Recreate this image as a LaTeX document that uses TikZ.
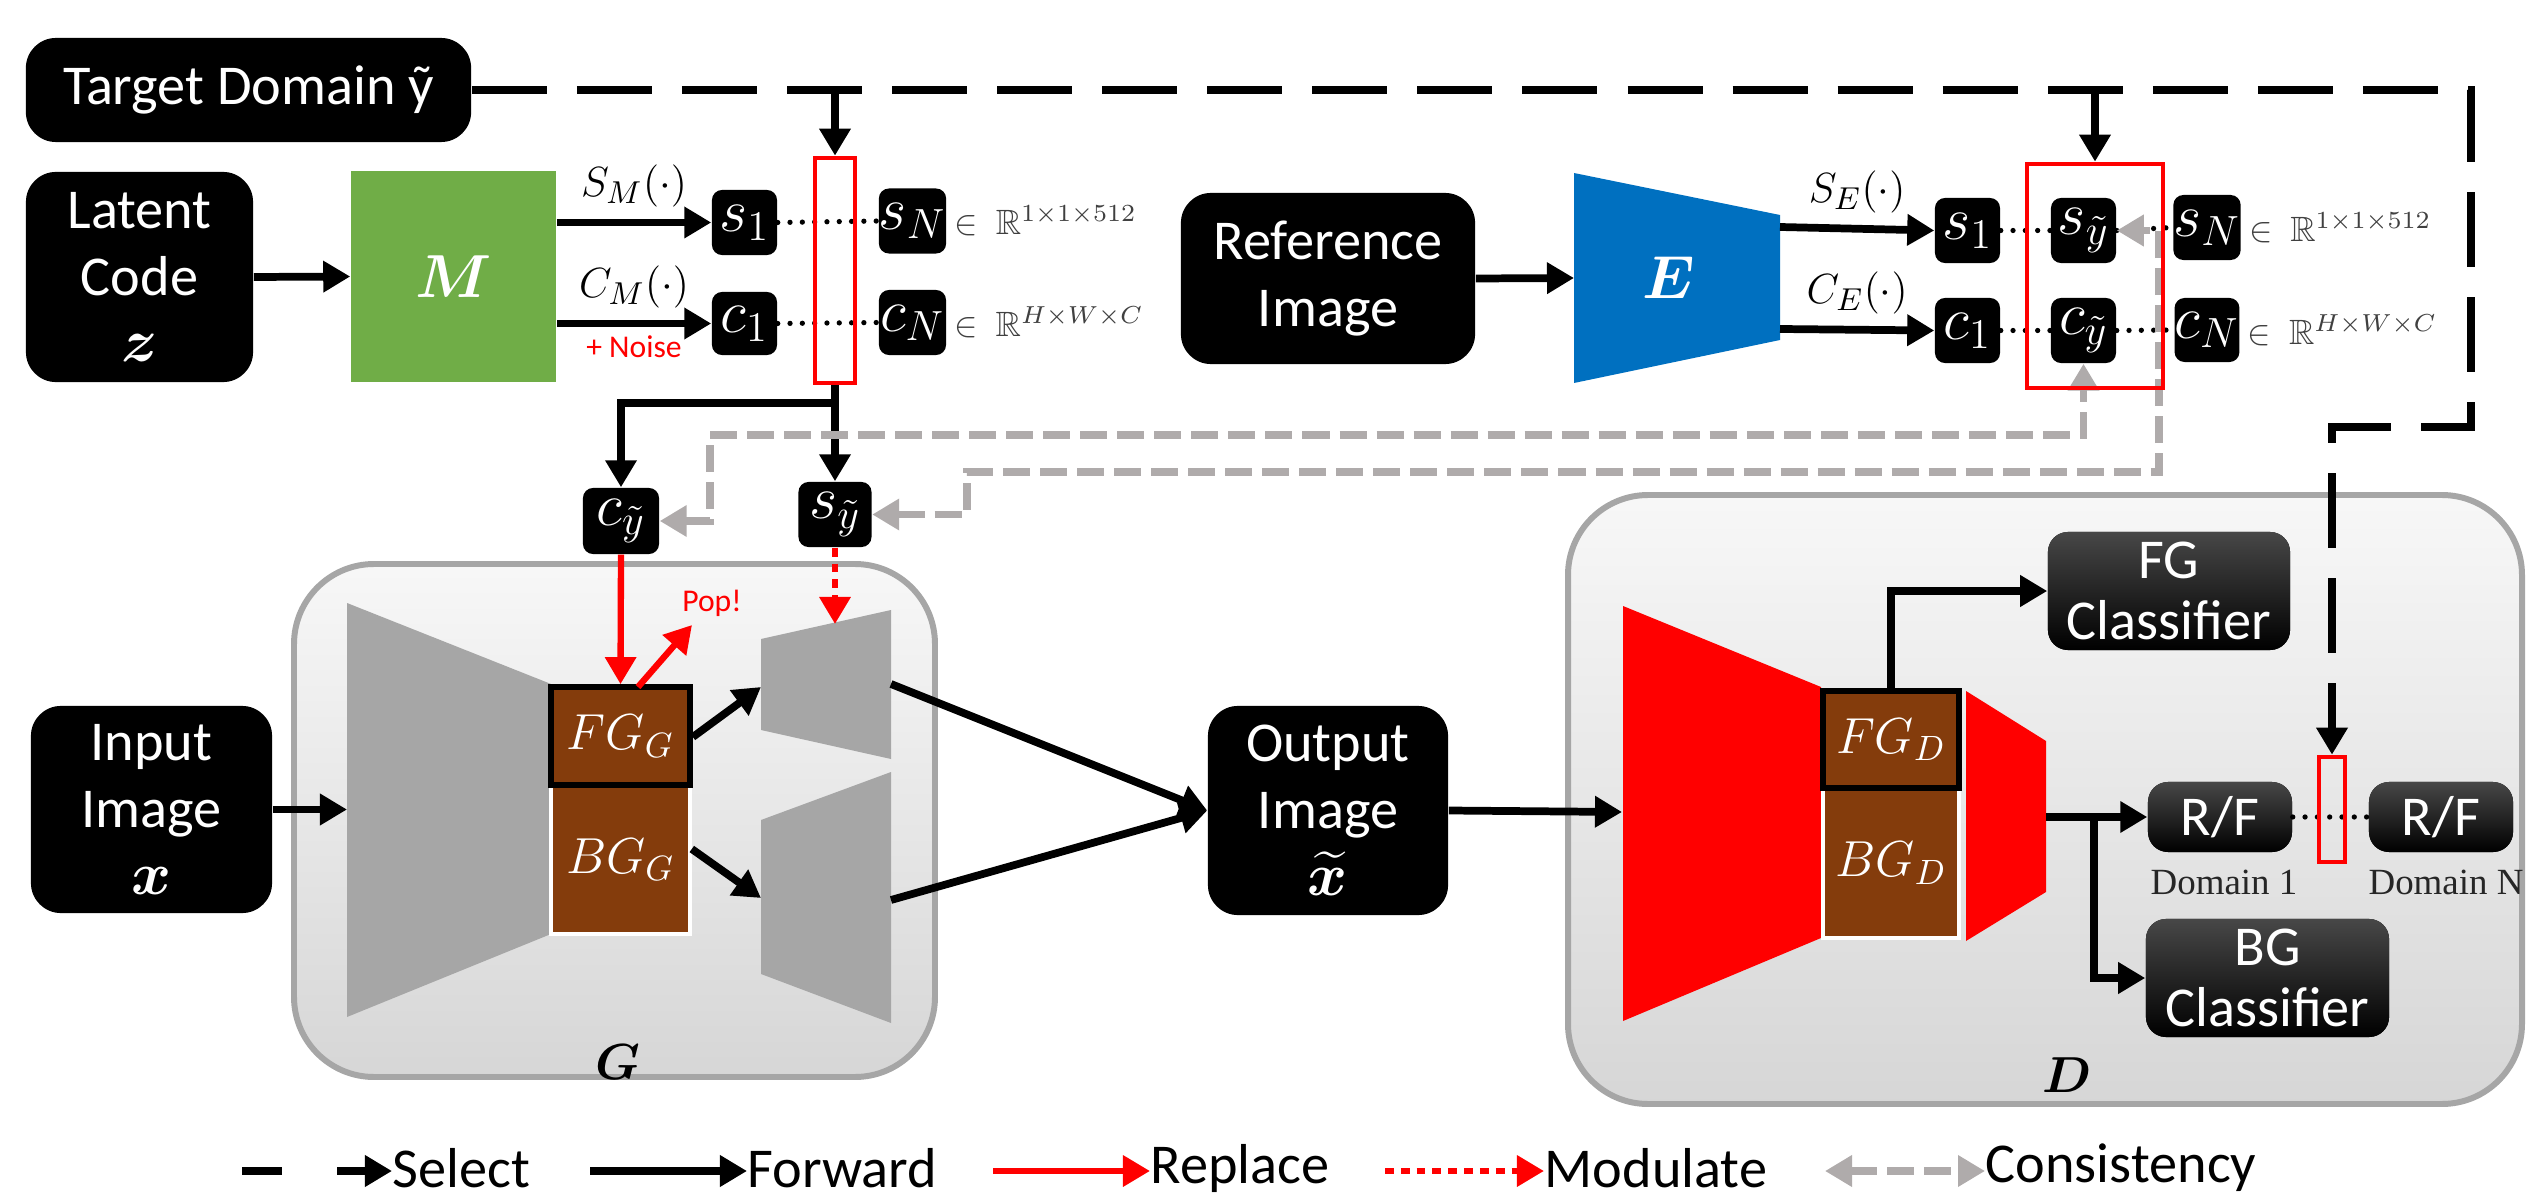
\documentclass[tikz,border=0pt]{standalone}
\usepackage{amsmath}
\usepackage{amssymb}
\usepackage{bm}
\usepackage{fontspec}
\setmainfont{Carlito}
\newfontfamily\domfont{Liberation Serif}
\usepackage{tikz}
\usetikzlibrary{positioning,calc,arrows.meta}
\definecolor{mgreen}{HTML}{70AD47}
\definecolor{eblue}{HTML}{0070C0}
\definecolor{featbrown}{HTML}{843C0C}
\definecolor{netgray}{HTML}{A6A6A6}
\definecolor{consgray}{HTML}{AFABAB}
\newcommand{\boxfont}{\fontsize{16}{19}\selectfont}
\newcommand{\cellfont}{\fontsize{17}{20}\selectfont}
\newcommand{\featfont}{\fontsize{14.5}{17}\selectfont}
\newcommand{\smallred}{\fontsize{9}{11}\selectfont}
\newcommand{\maplbl}{\fontsize{13}{15}\selectfont}
\tikzstyle{blk} = [fill=black, text=white, rounded corners=0.3cm, align=center, inner sep=0pt, font=\boxfont]
\tikzstyle{clf} = [blk, top color=black!72, bottom color=black, rounded corners=0.2cm, font=\fontsize{16}{17.5}\selectfont]
\tikzstyle{cell} = [fill=black, text=white, rounded corners=0.1cm, inner sep=0pt, font=\cellfont]
\tikzstyle{feat} = [fill=featbrown, text=white, inner sep=0pt, font=\featfont]
\tikzstyle{selbox} = [draw=red, line width=1.3pt, inner sep=0pt]
\tikzstyle{container} = [rounded corners=0.8cm, draw=netgray, line width=1.7pt, top color=black!3, bottom color=black!16]
\tikzstyle{fwd} = [-{Triangle[length=0.27cm,width=0.3cm]}, line width=2.2pt]
\tikzstyle{pick} = [fwd, dash pattern=on 0.75cm off 0.3cm]
\tikzstyle{rep} = [fwd, red, line width=1.8pt]
\tikzstyle{modu} = [fwd, red, line width=1.8pt, dash pattern=on 2.5pt off 2pt]
\tikzstyle{cons} = [{Triangle[length=0.27cm,width=0.3cm]}-{Triangle[length=0.27cm,width=0.3cm]}, consgray, line width=2.2pt, dash pattern=on 0.27cm off 0.1cm]
\tikzstyle{dotline} = [line width=1.5pt, line cap=round, dash pattern=on 0pt off 3.5pt]
\tikzstyle{dim} = [anchor=west, inner sep=2pt, text=black!75, font=\fontsize{10}{12}\selectfont]
\tikzstyle{legend} = [anchor=west, inner sep=0pt, font=\fontsize{16}{19}\selectfont]

\begin{document}
\begin{tikzpicture}[x=0.01cm, y=-0.01cm]
	\useasboundingbox (0,0) rectangle (2529,1197);
	%
	\draw [container] (294,564) rectangle (935,1077);
	\draw [container] (1568,495) rectangle (2522,1104);
	%
	\node (tgt) [blk, minimum width=4.45cm, minimum height=1.04cm] at (248.5,90) {Target Domain ỹ};
	\node (lat) [blk, minimum width=2.27cm, minimum height=2.1cm] at (139.5,277) {Latent\\Code\\$\bm{z}$};
	\node (M) [fill=mgreen, text=white, minimum width=2.05cm, minimum height=2.11cm, font=\fontsize{16}{19}\selectfont] at (453.5,276.5) {$\bm{M}$};
	%
	\node (s1) [cell, minimum width=0.65cm, minimum height=0.65cm] at (744.5,222.5) {$s_1$};
	\node (sN) [cell, minimum width=0.67cm, minimum height=0.65cm] at (912.5,221) {$s_N$};
	\node (c1) [cell, minimum width=0.65cm, minimum height=0.63cm] at (744.5,323.5) {$c_1$};
	\node (cN) [cell, minimum width=0.67cm, minimum height=0.65cm] at (912.5,322.5) {$c_N$};
	\node (dimS) [dim] at (sN.east) {$\in\ \mathbb{R}^{1\times1\times512}$};
	\node (dimC) [dim] at (cN.east) {$\in\ \mathbb{R}^{H\times W\times C}$};
	\draw [dotline] (s1.east) -- (sN.west);
	\draw [dotline] (c1.east) -- (cN.west);
	\node (selM) [selbox, minimum width=0.4cm, minimum height=2.25cm] at (835,270.5) {};
	%
	\draw [fwd] (lat.east) -- (M.west);
	\draw [fwd] (M.east |- s1.west) -- node[above, font=\maplbl] {$S_M(\cdot)$} (s1.west);
	\draw [fwd] (M.east |- c1.west) -- node[above, font=\maplbl] {$C_M(\cdot)$} node[below, red, font=\smallred, yshift=1pt] {+ Noise} (c1.west);
	%
	\node (ref) [blk, minimum width=2.94cm, minimum height=1.71cm] at (1328,278.5) {Reference\\Image};
	\fill [eblue] (1574,173) -- (1780,215) -- (1780,340) -- (1574,383) -- cycle;
	\node (E) [text=white, font=\fontsize{16}{19}\selectfont] at (1669,278) {$\bm{E}$};
	\coordinate (Ein) at (1574,278);
	\coordinate (Es) at (1780,227);
	\coordinate (Ec) at (1780,329);
	%
	\node (es1) [cell, minimum width=0.65cm, minimum height=0.65cm] at (1967.5,230.5) {$s_1$};
	\node (esy) [cell, minimum width=0.65cm, minimum height=0.65cm] at (2083.5,230.5) {$s_{\tilde{y}}$};
	\node (esN) [cell, minimum width=0.64cm, minimum height=0.65cm] at (2207,227.5) {$s_N$};
	\node (ec1) [cell, minimum width=0.65cm, minimum height=0.65cm] at (1967.5,330.5) {$c_1$};
	\node (ecy) [cell, minimum width=0.65cm, minimum height=0.65cm] at (2083.5,330.5) {$c_{\tilde{y}}$};
	\node (ecN) [cell, minimum width=0.64cm, minimum height=0.64cm] at (2207,330) {$c_N$};
	\node (edimS) [dim] at (esN.east) {$\in\ \mathbb{R}^{1\times1\times512}$};
	\node (edimC) [dim] at (ecN.east) {$\in\ \mathbb{R}^{H\times W\times C}$};
	\draw [dotline] (es1.east) -- (esy.west);
	\draw [dotline] (esy.east) -- (esN.west);
	\draw [dotline] (ec1.east) -- (ecy.west);
	\draw [dotline] (ecy.east) -- (ecN.west);
	%
	\draw [fwd] (ref.east) -- (Ein);
	\draw [fwd] (Es) -- node[above, font=\maplbl] {$S_E(\cdot)$} (es1.west);
	\draw [fwd] (Ec) -- node[above, font=\maplbl] {$C_E(\cdot)$} (ec1.west);
	%
	\node (cyG) [cell, minimum width=0.76cm, minimum height=0.66cm] at (621,521) {$c_{\tilde{y}}$};
	\node (syG) [cell, minimum width=0.73cm, minimum height=0.65cm] at (835,514.5) {$s_{\tilde{y}}$};
	\coordinate (split) at (835,403);
	\draw [fwd] (selM.south) -- (split) -| (cyG.north);
	\draw [fwd] (split) -- (syG.north);
	%
	\coordinate (cons1) at (710,435);
	\coordinate (cons2) at (967,472);
	\coordinate (cons3) at (2159,472);
	\draw [cons] (cyG.east) -| (cons1) -| (ecy.south);
	\draw [cons] (syG.east) -| (cons2) -- (cons3) |- (esy.east);
	\node (selE) [selbox, minimum width=1.36cm, minimum height=2.24cm] at (2095,276) {};
	%
	\node (inp) [blk, minimum width=2.41cm, minimum height=2.07cm] at (151.5,809.5) {Input\\Image\\$\bm{x}$};
	\fill [netgray] (347,603) -- (551,684) -- (551,934) -- (347,1017) -- cycle;
	\coordinate (encin) at (347,809.5);
	\node (bgG) [feat, draw=white, line width=1pt, minimum width=1.39cm, minimum height=1.49cm] at (620.5,859.5) {$BG_G$};
	\node (fgG) [feat, draw=black, line width=1.6pt, minimum width=1.39cm, minimum height=0.98cm] at (620.5,736) {$FG_G$};
	\fill [netgray] (761,639) -- (891,610) -- (891,759) -- (761,730) -- cycle;
	\fill [netgray] (761,820) -- (891,772) -- (891,1023) -- (761,974) -- cycle;
	\coordinate (dU) at (761,687);
	\coordinate (dL) at (761,898);
	\coordinate (uO) at (891,684);
	\coordinate (lO) at (891,900);
	\coordinate (popS) at (638,687);
	\coordinate (popE) at (692,625);
	\coordinate (modE) at (835,624);
	\node (G) [font=\fontsize{15}{18}\selectfont] at (618,1062) {$\bm{G}$};
	%
	\draw [fwd] (inp.east) -- (encin);
	\draw [rep] (cyG.south) -- (fgG.north);
	\draw [rep] (popS) -- (popE);
	\node (pop) [red, font=\smallred] at (712,603) {Pop!};
	\draw [modu] (syG.south) -- (modE);
	\draw [fwd] (fgG.east |- 0,737) -- (dU);
	\draw [fwd] (bgG.east |- 0,849) -- (dL);
	%
	\node (out) [blk, minimum width=2.4cm, minimum height=2.09cm] at (1328,810.5) {Output\\Image\\$\widetilde{\bm{x}}$};
	\draw [fwd] (uO) -- (out.west);
	\draw [fwd] (lO) -- (out.west);
	%
	\fill [red] (1623,606) -- (1821,687) -- (1821,938) -- (1623,1021) -- cycle;
	\fill [red] (1966,691) -- (2046,741) -- (2046,892) -- (1966,941) -- cycle;
	\node (bgD) [feat, draw=white, line width=1pt, minimum width=1.36cm, minimum height=1.5cm] at (1891,863) {$BG_D$};
	\node (fgD) [feat, draw=black, line width=1.6pt, minimum width=1.36cm, minimum height=0.97cm] at (1891,739.5) {$FG_D$};
	\coordinate (dIn) at (1622,812);
	\coordinate (dOut) at (2046,817);
	\coordinate (dSplit) at (2094,817);
	\node (D) [font=\fontsize{15}{18}\selectfont] at (2067,1075) {$\bm{D}$};
	%
	\node (fgc) [clf, minimum width=2.42cm, minimum height=1.18cm] at (2169,591) {FG\\Classifier};
	\node (bgc) [clf, minimum width=2.43cm, minimum height=1.18cm] at (2267.5,978) {BG\\Classifier};
	\node (rf1) [clf, minimum width=1.44cm, minimum height=0.7cm] at (2220,817) {R/F};
	\node (rfN) [clf, minimum width=1.44cm, minimum height=0.7cm] at (2441,817) {R/F};
	\node (dom1) [font=\domfont\fontsize{10.5}{12}\selectfont, text=black!85] at (2224,882) {Domain 1};
	\node (domN) [font=\domfont\fontsize{10.5}{12}\selectfont, text=black!85] at (2446,882) {Domain N};
	\draw [dotline] (rf1.east) -- (rfN.west);
	\node (selD) [selbox, minimum width=0.26cm, minimum height=1.05cm] at (2332,809.5) {};
	%
	\draw [fwd] (out.east) -- (dIn);
	\draw [fwd] (fgD.north) |- (fgc.west);
	\draw [fwd] (dOut) -- (rf1.west);
	\draw [fwd] (dSplit) |- (bgc.west);
	%
	\coordinate (selR) at (2471,427);
	\draw [pick] (tgt.east) -| (selR) -- (selR -| selD) -- (selD.north);
	\draw [pick] (tgt.east -| selM) -- (selM.north);
	\draw [pick] (tgt.east -| selE) -- (selE.north);
	%
	\coordinate (lg1) at (242,1171);
	\coordinate (lg2) at (590,1171);
	\coordinate (lg3) at (993,1171);
	\coordinate (lg4) at (1385,1171);
	\coordinate (lg5) at (1825,1171);
	\node (tg1) [legend] at (392,1168) {Select};
	\node (tg2) [legend] at (747,1168) {Forward};
	\node (tg3) [legend] at (1150,1168) {Replace};
	\node (tg4) [legend] at (1544,1168) {Modulate};
	\node (tg5) [legend] at (1985,1168) {Consistency};
	\draw [pick, dash pattern=on 0.4cm off 0.55cm] (lg1) -- (tg1.west |- lg1);
	\draw [fwd] (lg2) -- (tg2.west |- lg2);
	\draw [rep] (lg3) -- (tg3.west |- lg3);
	\draw [modu] (lg4) -- (tg4.west |- lg4);
	\draw [cons] (lg5) -- (tg5.west |- lg5);
\end{tikzpicture}
\end{document}
